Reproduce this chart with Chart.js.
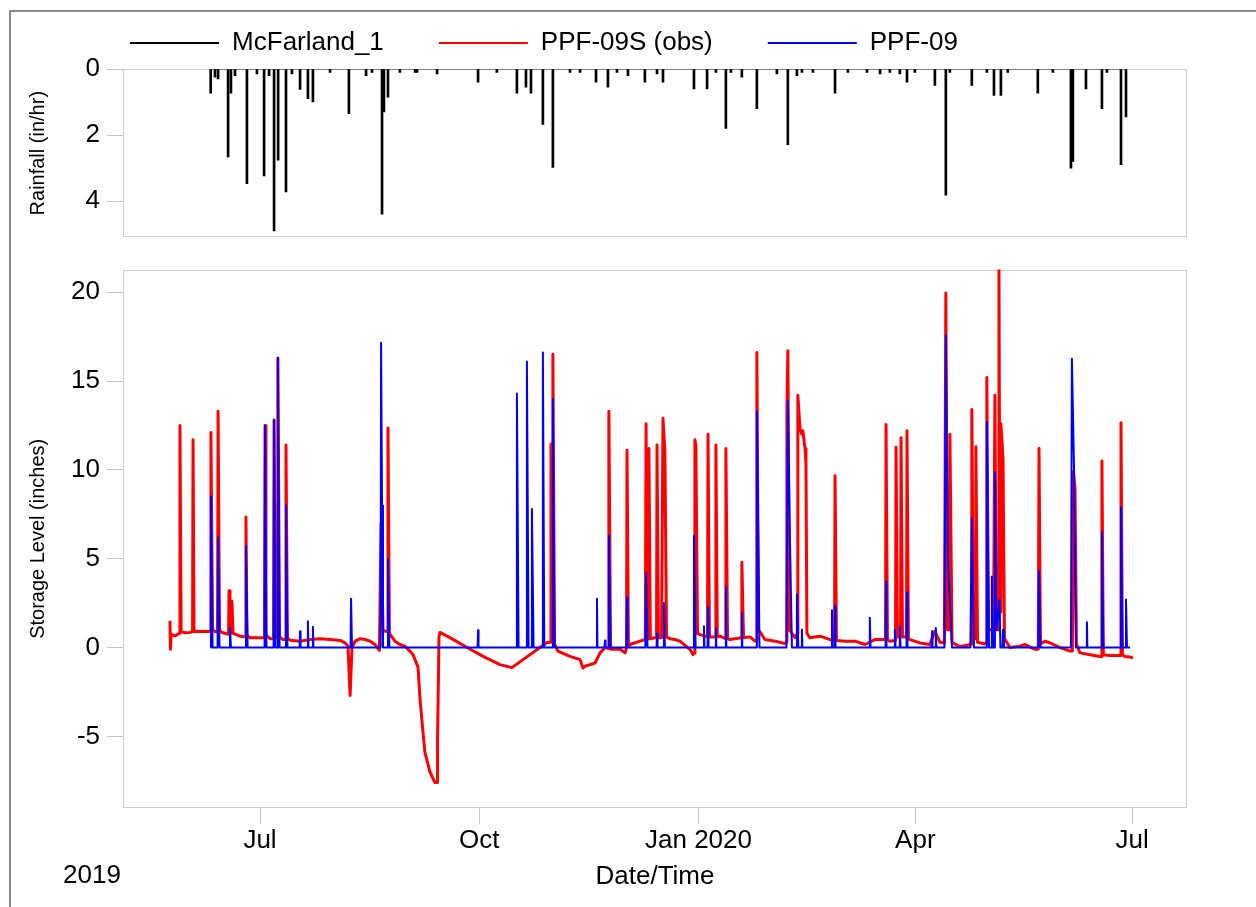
<!DOCTYPE html>
<html><head><meta charset="utf-8">
<script src="https://cdn.jsdelivr.net/npm/chart.js@4.4.1/dist/chart.umd.min.js"></script>
<style>
html,body{margin:0;padding:0;background:#fff;overflow:hidden;width:1256px;height:907px;position:relative;}
#frame{position:absolute;left:9px;top:10px;width:1300px;height:1000px;border-left:2px solid #8a8a8a;border-top:2px solid #8a8a8a;}
#c1{position:absolute;left:-99px;top:-25px;width:1355px;height:285px;}
#c2{position:absolute;left:0;top:247px;width:1256px;height:660px;}
</style></head><body>
<div id="frame"></div>
<canvas id="c1" width="1355" height="285"></canvas>
<canvas id="c2" width="1256" height="660"></canvas>
<script>
// ---- names / tick labels ----
const seriesNames = ['McFarland_1', 'PPF-09S (obs)', 'PPF-09'];
const tickDays = [181, 273, 365, 456, 547];            // day of 2019 (Jan 1 2019 = 0)
const tickLabels = ['Jul', 'Oct', 'Jan 2020', 'Apr', 'Jul'];
const rainTicks = [0, 2, 4];
const levelTicks = [-5, 0, 5, 10, 15, 20];
const yearLabel = '2019';

// ---- rainfall (in/hr), McFarland_1 ----
const rainDays = [160.3,162.1,163.4,167.6,168.8,170.5,175.5,179.7,182.7,184.8,186.9,188.6,191.9,194.4,197.8,201.1,203.2,210.4,218.3,225.5,228.0,232.2,233.0,234.7,239.7,246.1,246.9,255.3,272.5,280.4,288.8,292.6,294.7,299.7,303.9,311.1,315.3,322.0,327.0,330.8,335.4,342.5,347.6,350.1,363.1,368.6,372.3,376.5,378.6,383.2,389.5,397.9,402.5,406.3,408.4,413.0,422.3,427.7,435.7,441.2,445.3,449.5,452.5,455.8,464.2,468.8,470.5,479.7,486.0,489.0,491.9,494.8,507.4,513.7,521.3,522.1,527.6,534.3,536.4,542.3,544.4];
const rainValues = [0.73,0.25,0.3,2.66,0.73,0.2,3.47,0.15,3.24,0.2,4.9,2.76,3.72,0.15,0.62,0.9,1.0,0.1,1.35,0.2,0.1,4.4,1.3,0.85,0.1,0.1,0.1,0.15,0.4,0.1,0.73,0.55,0.73,1.68,2.98,0.1,0.1,0.4,0.55,0.1,0.2,0.4,0.15,0.4,0.6,0.6,0.1,1.8,0.1,0.25,1.2,0.15,2.29,0.2,0.1,0.1,0.73,0.1,0.1,0.15,0.1,0.15,0.4,0.1,0.5,3.82,0.1,0.5,0.1,0.8,0.8,0.1,0.73,0.1,3.0,2.8,0.6,1.2,0.1,2.9,1.45];

// ---- observed storage level (inches), PPF-09S (obs) ----
const obsDays = [143.2,143.4,143.7,145.3,147.2,147.4,147.9,149.5,151.6,152.7,152.9,153.3,155.8,157.9,160.2,160.4,161.1,162.1,163.2,163.4,164.0,165.0,167.8,168.0,168.4,169.0,169.2,169.7,172.6,174.9,175.1,175.5,176.8,181.0,182.9,183.1,183.5,185.2,186.7,186.9,187.5,188.3,188.5,189.2,190.6,191.7,191.9,192.5,193.6,197.8,202.0,206.2,210.4,214.6,216.7,217.9,218.8,219.6,220.9,223.0,225.1,227.2,229.2,231.1,231.8,232.6,233.5,234.5,234.7,235.3,237.6,239.7,241.8,243.9,245.2,247.3,248.1,249.0,250.2,252.3,254.4,255.3,255.5,256.1,256.5,260.7,267.9,274.6,281.7,286.7,301.4,302.9,303.1,303.5,303.7,303.9,304.6,306.0,311.1,315.3,316.5,317.4,319.5,321.6,323.7,325.8,327.2,327.4,328.1,332.1,334.2,334.8,335.0,335.6,336.3,340.4,342.7,343.0,343.4,344.0,344.2,344.8,346.7,347.4,347.6,348.2,349.5,350.1,350.9,351.6,353.0,355.1,357.2,361.4,362.7,363.3,363.5,363.9,364.6,365.6,368.8,369.0,369.6,372.1,372.3,372.9,374.0,376.3,376.5,377.2,378.2,383.0,383.2,383.9,386.6,388.7,389.3,389.5,390.2,392.9,397.1,401.3,401.9,402.1,402.5,403.2,405.5,406.5,406.7,407.6,408.4,408.8,409.7,410.1,410.5,411.8,416.0,420.2,422.1,422.3,422.9,426.5,430.7,434.9,439.0,443.5,443.7,444.3,445.3,447.7,447.9,448.5,449.8,450.0,450.6,452.3,452.5,453.1,453.7,457.9,462.1,464.2,466.3,468.2,468.8,469.5,470.3,470.5,471.4,474.7,478.9,479.5,479.7,480.4,481.2,481.4,482.1,485.2,485.8,486.0,486.7,488.8,489.4,490.0,490.9,491.1,491.5,491.7,491.9,492.8,493.4,495.7,499.9,502.0,506.2,507.6,507.9,508.5,510.4,512.5,516.7,520.9,521.9,522.3,523.0,523.6,525.1,529.3,533.5,534.1,534.3,534.9,537.7,542.1,542.3,542.9,543.9,546.1,547.3];
const obsLevel = [1.5,-0.1,0.75,0.65,0.8,12.5,0.9,0.83,0.85,0.9,11.7,0.9,0.92,0.9,0.9,12.1,1.0,0.9,0.85,13.3,1.0,0.85,0.75,3.2,0.9,0.8,2.6,0.8,0.64,0.6,7.35,0.7,0.55,0.55,0.55,12.5,0.7,0.5,0.5,12.8,0.6,0.55,16.3,0.6,0.45,0.45,11.4,0.55,0.41,0.36,0.45,0.5,0.45,0.4,0.26,0.08,-2.7,0,0.36,0.5,0.45,0.36,0.17,-0.15,7.0,1.0,0.92,0.9,12.35,0.8,0.36,0.17,0.08,-0.2,-0.4,-1.1,-2.8,-4.2,-5.9,-7.0,-7.6,-7.6,-5.2,0.6,0.85,0.56,0,-0.5,-0.96,-1.13,0.28,0.3,11.45,1.0,0.5,16.5,0.2,-0.2,-0.5,-0.68,-1.15,-1.05,-0.96,-0.87,-0.3,0,-0.05,13.3,-0.1,-0.1,-0.3,0,11.1,0.1,0.17,0.36,0.45,12.6,0.5,0.5,11.2,0.5,0.55,0.55,11.4,0.55,0.55,12.9,11.0,0.6,0.5,0.45,0.36,-0.1,-0.4,-0.3,11.7,11.4,0.8,0.73,0.6,12.0,0.6,0.6,11.4,0.6,0.64,0.5,11.2,0.5,0.45,0.55,4.8,0.55,0.6,0.36,0.4,16.6,1.0,0.45,0.36,0.23,0.3,13.4,16.7,1.0,0.55,0.8,14.2,12.3,12.0,12.2,11.2,10.3,0.8,0.55,0.64,0.45,0.4,9.67,0.4,0.36,0.36,0.17,0.45,0.45,12.55,0.45,0.36,0.4,11.27,0.6,0.6,11.8,0.6,0.6,12.2,0.5,0.45,0.26,0.17,0.92,0.3,0.26,19.96,1.0,1.0,12.0,0.3,0.04,0.17,0.2,13.4,1.0,0.5,11.3,0.3,0.2,0.3,15.2,1.0,1.0,14.2,1.0,1.0,21.5,2.0,2.0,12.6,10.6,0.5,0,0.08,0.17,-0.1,-0.1,11.2,0.2,0.36,0.26,0,-0.2,-0.2,9.9,9.0,0.2,-0.3,-0.4,-0.5,-0.5,10.5,-0.4,-0.45,-0.45,12.65,-0.4,-0.5,-0.53,-0.6];

// ---- modelled storage level (inches), PPF-09 ----
const modelDays = [160.2,160.4,161.1,163.2,163.4,164.0,168.2,168.4,168.8,174.9,175.1,175.8,182.9,183.1,183.7,186.7,186.9,187.5,188.3,188.5,189.2,191.7,191.9,192.5,197.6,197.8,198.0,200.9,201.1,201.3,203.0,203.2,203.4,219.0,219.2,219.6,231.6,231.8,232.2,232.6,234.5,234.7,235.3,272.3,272.5,272.7,288.6,288.8,289.5,292.8,293.0,293.7,294.9,295.1,295.8,299.5,299.7,300.3,303.7,303.9,304.6,322.2,322.4,322.6,325.5,325.8,326.0,327.2,327.4,328.1,334.8,335.0,335.2,342.7,343.0,343.6,347.4,347.6,347.8,350.3,350.5,350.9,362.9,363.1,363.7,367.1,367.3,367.5,368.8,369.0,369.2,372.1,372.3,372.5,376.3,376.5,376.7,383.0,383.2,383.4,389.3,389.5,390.6,401.9,402.5,403.4,404.2,406.1,406.3,406.9,408.2,408.4,408.6,420.8,421.0,421.2,422.1,422.3,422.5,436.7,436.9,437.2,443.5,443.7,443.9,447.2,447.4,447.7,449.3,449.5,449.8,452.3,452.5,452.7,462.8,463.0,463.2,464.4,464.6,464.8,468.2,468.8,469.7,471.4,479.1,479.7,480.6,485.8,486.0,486.9,487.9,488.1,488.6,489.2,489.4,490.0,491.3,491.7,492.6,492.8,493.2,507.6,507.9,508.5,521.3,521.7,522.6,523.4,527.8,528.0,528.2,534.1,534.3,534.9,542.1,542.3,542.9,544.1,544.4,544.8,546.1];
const modelLevel = [0,8.5,0,0,6.2,0,0,1.1,0,0,5.7,0,0,12.5,0,0,12.8,0,0,16.3,0,0,8.0,0,0,0.92,0,0,1.48,0,0,1.17,0,0,2.75,0,0,17.15,8.0,0,0,5.0,0,0,0.98,0,0,14.3,0,0,16.1,0,0,7.8,0,0,16.6,0,0,14.0,0,0,2.75,0,0,0.4,0,0,6.3,0,0,2.8,0,0,4.2,0,0,0.8,0,0,2.5,0,0,6.3,0,0,1.2,0,0,2.24,0,0,1.1,0,0,3.4,0,0,1.96,0,0,13.3,0,0,13.9,6.0,0,0,3.0,0,0,1.0,0,0,2.1,0,0,2.33,0,0,1.67,0,0,3.7,0,0,1.0,0,0,1.2,0,0,3.1,0,0,0.92,0,0,1.1,0,0,17.57,4.8,0,0,7.3,0,0,12.7,0,0,4.0,0,0,9.86,1.0,2.7,0,0,1.0,0,0,4.3,0,0,16.25,10.0,0,0,1.43,0,0,6.5,0,0,7.9,0,0,2.7,0,0];

const pts = (xs, ys) => xs.map((x, i) => ({x: x, y: ys[i]}));

const FONT = "'Liberation Sans', Arial, sans-serif";
Chart.defaults.font.family = FONT;
Chart.defaults.color = '#000';

const boxPlugin = {
  id: 'plotBox',
  beforeDatasetsDraw(chart) {
    const {ctx, chartArea: a} = chart;
    ctx.save();
    ctx.strokeStyle = '#cfcfcf';
    ctx.lineWidth = 1;
    ctx.strokeRect(Math.round(a.left) + 0.5, Math.round(a.top) + 0.5,
                   Math.round(a.right - a.left) - 1, Math.round(a.bottom - a.top) - 1);
    ctx.restore();
  }
};
const legendHeight = {
  id: 'legendHeight',
  beforeLayout(chart) {
    const lg = chart.legend;
    if (lg && !lg._fixedFit) {
      const orig = lg.fit;
      lg.fit = function () { orig.call(this); this.height = 94; };
      lg._fixedFit = true;
    }
  }
};
const yearPlugin = {
  id: 'yearLabel',
  afterDraw(chart) {
    const ctx = chart.ctx;
    ctx.save();
    ctx.font = '26px ' + FONT;
    ctx.fillStyle = '#000';
    ctx.textAlign = 'left';
    ctx.textBaseline = 'middle';
    ctx.fillText(yearLabel, 63, 629);
    ctx.restore();
  }
};

const tickGrid = {drawOnChartArea: false, drawTicks: true, tickLength: 16, color: '#c4c4c4', lineWidth: 1};

// ---------- top panel: rainfall ----------
new Chart(document.getElementById('c1'), {
  type: 'bar',
  data: {
    datasets: [
      {label: seriesNames[0], data: pts(rainDays, rainValues), backgroundColor: '#000', borderColor: '#000',
       borderWidth: 0, barThickness: 2},
      {type: 'line', label: seriesNames[1], data: [], borderColor: '#ff0000', borderWidth: 2},
      {type: 'line', label: seriesNames[2], data: [], borderColor: '#0000ff', borderWidth: 2},
      {type: 'line', label: 'base', data: [{x: rainDays[0], y: 0}, {x: rainDays[rainDays.length - 1], y: 0}],
       borderColor: '#333', borderWidth: 1, pointRadius: 0}
    ]
  },
  options: {
    responsive: false, animation: false, events: [],
    layout: {padding: {left: 0, right: 69, top: 0, bottom: 16}},
    plugins: {
      tooltip: {enabled: false},
      legend: {
        display: true, position: 'top', align: 'center',
        labels: {
          boxWidth: 89, boxHeight: 2, padding: 55, color: '#000', font: {size: 26, family: FONT},
          generateLabels(chart) {
            return chart.data.datasets.slice(0, 3).map((ds, i) => ({
              text: ds.label, fillStyle: ds.borderColor, strokeStyle: ds.borderColor,
              lineWidth: 0, hidden: false, datasetIndex: i, fontColor: '#000'
            }));
          }
        }
      }
    },
    scales: {
      x: {type: 'linear', min: 123.5, max: 570, display: false, offset: false},
      y: {
        min: 0, max: 5.1, reverse: true,
        afterBuildTicks(s) { s.ticks = rainTicks.map(v => ({value: v})); },
        afterFit(s) { s.width = 222; },
        ticks: {font: {size: 26}, color: '#000', padding: 7},
        grid: tickGrid, border: {display: false},
        title: {display: true, text: 'Rainfall (in/hr)', font: {size: 20}, color: '#000', padding: {top: 125, bottom: 0}}
      }
    }
  },
  plugins: [legendHeight, boxPlugin]
});

// ---------- bottom panel: storage level ----------
new Chart(document.getElementById('c2'), {
  type: 'line',
  data: {
    datasets: [
      {label: seriesNames[2], data: pts(modelDays, modelLevel), borderColor: '#0000ff', borderWidth: 2,
       pointRadius: 0, tension: 0, borderJoinStyle: 'round'},
      {label: seriesNames[1], data: pts(obsDays, obsLevel), borderColor: '#ff0000', borderWidth: 3,
       pointRadius: 0, tension: 0, borderJoinStyle: 'round'}
    ]
  },
  options: {
    responsive: false, animation: false, events: [],
    layout: {padding: {left: 0, right: 69, top: 21, bottom: 0}},
    plugins: {legend: {display: false}, tooltip: {enabled: false}},
    scales: {
      x: {
        type: 'linear', min: 123.5, max: 570, offset: false,
        afterBuildTicks(s) { s.ticks = tickDays.map(v => ({value: v})); },
        afterFit(s) { s.height = 99; },
        ticks: {callback: (v, i) => tickLabels[i], font: {size: 26}, color: '#000', padding: 1,
                maxRotation: 0, autoSkip: false},
        grid: tickGrid, border: {display: false},
        title: {display: true, text: 'Date/Time', font: {size: 26}, color: '#000', padding: {top: 0, bottom: 15}}
      },
      y: {
        min: -9.03, max: 21.27,
        afterBuildTicks(s) { s.ticks = levelTicks.map(v => ({value: v})); },
        afterFit(s) { s.width = 123; },
        ticks: {font: {size: 26}, color: '#000', padding: 7},
        grid: tickGrid, border: {display: false},
        title: {display: true, text: 'Storage Level (inches)', font: {size: 20}, color: '#000', padding: {top: 26, bottom: 0}}
      }
    }
  },
  plugins: [boxPlugin, yearPlugin]
});
</script>
</body></html>
